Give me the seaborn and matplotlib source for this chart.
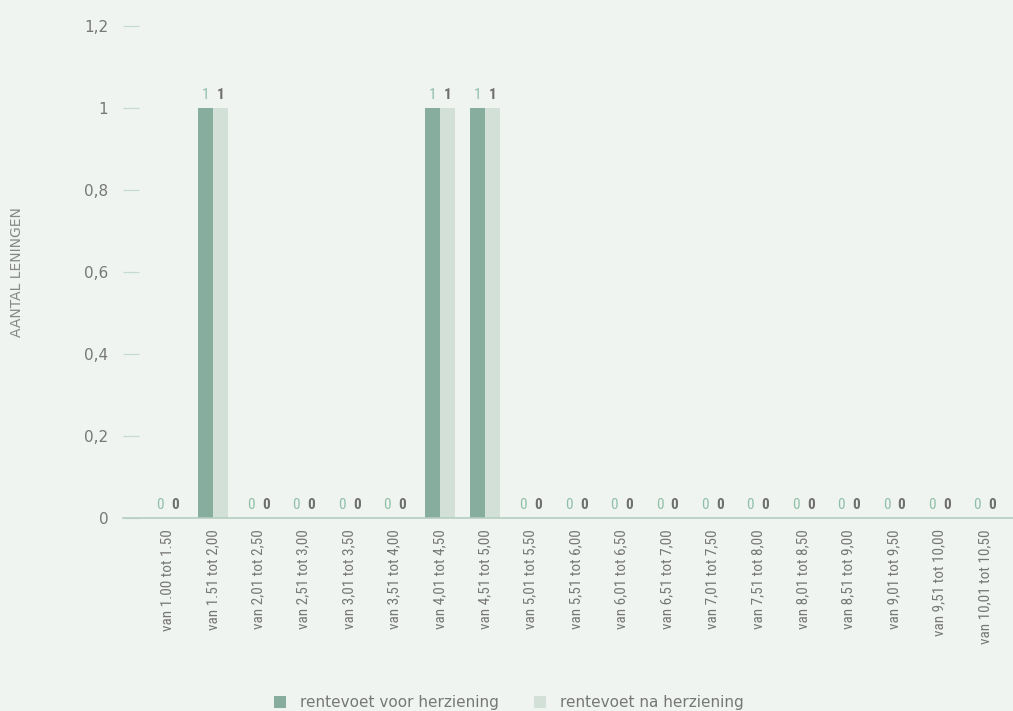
import matplotlib
matplotlib.use("Agg")
import matplotlib.pyplot as plt
from matplotlib import font_manager
import seaborn as sns
import pandas as pd

categories = [
    "van 1.00 tot 1.50", "van 1.51 tot 2,00", "van 2,01 tot 2,50", "van 2,51 tot 3,00",
    "van 3,01 tot 3,50", "van 3,51 tot 4,00", "van 4,01 tot 4,50", "van 4,51 tot 5,00",
    "van 5,01 tot 5,50", "van 5,51 tot 6,00", "van 6,01 tot 6,50", "van 6,51 tot 7,00",
    "van 7,01 tot 7,50", "van 7,51 tot 8,00", "van 8,01 tot 8,50", "van 8,51 tot 9,00",
    "van 9,01 tot 9,50", "van 9,51 tot 10,00", "van 10,01 tot 10,50",
]
voor_herziening = [0, 1, 0, 0, 0, 0, 1, 1, 0, 0, 0, 0, 0, 0, 0, 0, 0, 0, 0]
na_herziening = [0, 1, 0, 0, 0, 0, 1, 1, 0, 0, 0, 0, 0, 0, 0, 0, 0, 0, 0]
series_names = ["rentevoet voor herziening", "rentevoet na herziening"]
y_ticks = [0, 0.2, 0.4, 0.6, 0.8, 1, 1.2]
y_tick_labels = ["0", "0,2", "0,4", "0,6", "0,8", "1", "1,2"]

BG = "#f0f4f1"
DARK = "#86ad9d"
LIGHT = "#d2e0d8"
TEXT = "#777777"

df = pd.DataFrame({
    "bereik": categories * 2,
    "aantal": voor_herziening + na_herziening,
    "reeks": [series_names[0]] * len(categories) + [series_names[1]] * len(categories),
})

sns.set_theme(style="white")
plt.rcParams["font.family"] = ["DejaVu Sans"]

# narrow face for the rotated category labels, if one is installed
installed = {f.name for f in font_manager.fontManager.ttflist}
narrow = next((n for n in ["Liberation Sans Narrow", "Roboto Condensed", "DejaVu Sans"]
               if n in installed), "DejaVu Sans")

fig = plt.figure(figsize=(10.13, 7.11), dpi=100, facecolor=BG)
ax = fig.add_axes([123 / 1013, 1 - 518 / 711, 1 - 123 / 1013, (518 - 26) / 711])
ax.set_facecolor(BG)

sns.barplot(data=df, x="bereik", y="aantal", hue="reeks", order=categories,
            hue_order=series_names, palette=[DARK, LIGHT], width=0.66,
            saturation=1, ax=ax, legend=True)

for patch in ax.patches:
    patch.set_edgecolor("none")

label_styles = [dict(color="#8dbfa9", fontweight="normal"),
                dict(color="#6f6f6f", fontweight="bold")]
for cont, style in zip(ax.containers, label_styles):
    ax.bar_label(cont, labels=[f"{v:g}" for v in cont.datavalues], padding=4,
                 fontsize=11, family=narrow, **style)

ax.set_ylim(0, 1.2)
ax.set_xlim(-0.98, 18.62)
ax.set_yticks(y_ticks)
ax.set_yticklabels(y_tick_labels, color=TEXT, fontsize=11)
ax.tick_params(axis="y", left=True, direction="in", length=11.5, width=0.9,
               color="#c5dbd0", pad=10.5)
ax.tick_params(axis="x", length=0, pad=8)
ax.set_xticks(range(len(categories)))
ax.set_xticklabels(categories, rotation=90, color=TEXT, fontsize=11,
                   family=narrow, va="top", ha="center")

for side in ["top", "right", "left"]:
    ax.spines[side].set_visible(False)
ax.spines["bottom"].set_color("#b5cec2")
ax.spines["bottom"].set_linewidth(1.2)

ax.set_xlabel("")
ax.set_ylabel("AANTAL LENINGEN", color="#888888", fontsize=10)
ax.yaxis.set_label_coords((24 - 123) / 890, (518 - 272) / 492)

handles, labels = ax.get_legend_handles_labels()
ax.legend(handles, labels, loc="center", bbox_to_anchor=(509 / 1013, 8 / 711),
          bbox_transform=fig.transFigure, ncol=2, frameon=False, fontsize=11,
          labelcolor=TEXT, handlelength=0.8, handleheight=0.8, handletextpad=0.9,
          columnspacing=2.3)

fig.savefig("out.png", dpi=100, facecolor=BG)
